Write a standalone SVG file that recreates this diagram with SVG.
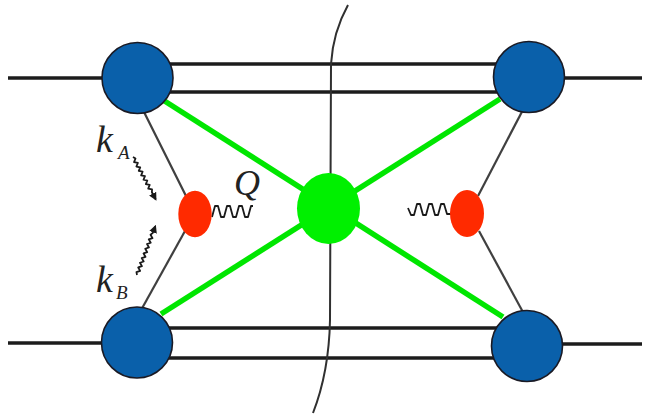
<svg xmlns="http://www.w3.org/2000/svg" width="648" height="414" viewBox="0 0 648 414">
  <style>
    .rail { stroke: #1c1c1c; stroke-width: 3.5; fill: none; }
    .leg { stroke: #404040; stroke-width: 2.2; fill: none; }
    .cut { stroke: #303030; stroke-width: 2; fill: none; }
    .gl { stroke: #00e600; stroke-width: 5.5; fill: none; }
    .wave { stroke: #1a1a1a; stroke-width: 1.8; fill: none; stroke-linejoin: round; }
    .blob { fill: #0a60aa; stroke: #1a1a24; stroke-width: 1.6; }
    .red { fill: #ff2a00; }
    .lbl { font-family: "Liberation Serif", "DejaVu Serif", serif; font-style: italic; fill: #222; }
  </style>
  <defs>
    <marker id="tip" viewBox="0 0 10 10" refX="8" refY="5" markerWidth="8" markerHeight="8" markerUnits="userSpaceOnUse" orient="auto">
      <path d="M0,0 L10,5 L0,10 Z" fill="#1a1a1a"/>
    </marker>
  </defs>

  <g id="connectors">
    <!-- outer external lines -->
    <line class="rail" x1="8" y1="78" x2="110" y2="78"/>
    <line class="rail" x1="560" y1="78" x2="642" y2="78"/>
    <line class="rail" x1="8" y1="343" x2="110" y2="343"/>
    <line class="rail" x1="560" y1="344" x2="642" y2="344"/>
    <!-- double rails between blobs -->
    <line class="rail" x1="165" y1="64" x2="500" y2="64"/>
    <line class="rail" x1="165" y1="92" x2="500" y2="92"/>
    <line class="rail" x1="165" y1="328" x2="500" y2="328"/>
    <line class="rail" x1="165" y1="358" x2="500" y2="358"/>
    <!-- cut line -->
    <path class="cut" d="M348,5 Q333,32 331,64 L330,320 Q329,372 313,413"/>
    <!-- legs to the emission vertices -->
    <line class="leg" x1="140" y1="104" x2="186" y2="196"/>
    <line class="leg" x1="185" y1="231" x2="140" y2="312"/>
    <line class="leg" x1="526" y1="104" x2="478" y2="196"/>
    <line class="leg" x1="479" y1="231" x2="524" y2="314"/>
    <!-- green crossing lines -->
    <line class="gl" x1="163" y1="100" x2="503" y2="317"/>
    <line class="gl" x1="500" y1="99" x2="161" y2="314"/>
    <!-- exchanged gluons -->
    <path class="wave" d="M212,217 L215,206 L218,206 L221,217 L224,217 L227,206 L230,206 L233,217 L236,217 L239,206 L242,206 L245,217 L248,217 L251,206 L253,206"/>
    <path class="wave" d="M408,208 L411,215 L414,215 L417,204 L420,204 L423,215 L426,215 L429,204 L432,204 L435,215 L438,215 L441,204 L444,204 L447,214 L451,214"/>
    <!-- incoming momentum arrows -->
    <g transform="translate(133,157) rotate(61.8)">
      <path class="wave" stroke-width="1.5" marker-end="url(#tip)" d="M0,0 l2.5,-1.5 l2.5,3 l2.5,-3 l2.5,3 l2.5,-3 l2.5,3 l2.5,-3 l2.5,3 l2.5,-3 l2.5,3 l2.5,-3 l2.5,3 l2.5,-3 l2.5,3 l2.5,-3 l2.5,1.5 l8,0"/>
    </g>
    <g transform="translate(137,275) rotate(-69.4)">
      <path class="wave" stroke-width="1.5" marker-end="url(#tip)" d="M0,0 l2.5,-1.5 l2.5,3 l2.5,-3 l2.5,3 l2.5,-3 l2.5,3 l2.5,-3 l2.5,3 l2.5,-3 l2.5,3 l2.5,-3 l2.5,3 l2.5,-3 l2.5,3 l2.5,-3 l2.5,3 l2.5,-3 l2.5,1.5 l7,0"/>
    </g>
  </g>

  <g id="blob-tl"><circle class="blob" cx="137.5" cy="78" r="35.5"/></g>
  <g id="blob-tr"><circle class="blob" cx="529" cy="77" r="35.5"/></g>
  <g id="blob-bl"><circle class="blob" cx="137" cy="342.5" r="35.5"/></g>
  <g id="blob-br"><circle class="blob" cx="527" cy="346" r="35.5"/></g>

  <g id="hard-vertex"><ellipse cx="328.5" cy="208.5" rx="31.5" ry="35.5" fill="#00f000"/></g>
  <g id="vertex-left"><ellipse class="red" cx="195" cy="214" rx="16.7" ry="23.3"/></g>
  <g id="vertex-right"><ellipse class="red" cx="467" cy="213.5" rx="17" ry="23.5"/></g>

  <g id="labels">
    <text class="lbl" x="96" y="152" font-size="38">k</text>
    <text class="lbl" x="118" y="159" font-size="19">A</text>
    <text class="lbl" x="96" y="292" font-size="38">k</text>
    <text class="lbl" x="116" y="299" font-size="19">B</text>
    <text class="lbl" x="234" y="195" font-size="36">Q</text>
  </g>
</svg>
